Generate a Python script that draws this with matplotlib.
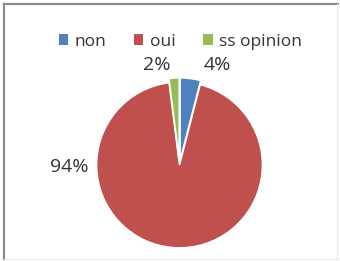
import matplotlib
matplotlib.use("Agg")
import matplotlib.pyplot as plt
from matplotlib.lines import Line2D
from matplotlib.patches import Patch

plt.rcParams["font.family"] = ["Open Sans", "DejaVu Sans"]

# data
categories = ["non", "oui", "ss opinion"]
shares = [4, 94, 2]
colors = ["#4F81BD", "#C0504D", "#9BBB59"]
explode = [0.05, 0.0, 0.05]
# label positions (data coords, pie radius = 1)
label_pos = [(0.46, 1.20), (-1.33, -0.03), (-0.28, 1.20)]

fig = plt.figure(figsize=(3.4, 2.61), dpi=100)
fig.patch.set_facecolor("white")

# frame around the chart area (dark on top/left, faint on bottom/right)
fig.add_artist(Line2D([0.013, 0.013], [0.008, 0.985], color="#8c8c8c", lw=1.6))
fig.add_artist(Line2D([0.013, 0.995], [0.985, 0.985], color="#8c8c8c", lw=1.6))
fig.add_artist(Line2D([0.013, 0.995], [0.008, 0.008], color="#e4e4e4", lw=0.8))
fig.add_artist(Line2D([0.991, 0.991], [0.008, 0.985], color="#ececec", lw=0.8))

ax = fig.add_axes([0.284, 0.050, 0.488, 0.636])
wedges, _ = ax.pie(
    shares,
    colors=colors,
    explode=explode,
    startangle=90,
    counterclock=False,
    radius=1.0,
    wedgeprops=dict(edgecolor="white", linewidth=1.2),
)
ax.set_xlim(-1.0, 1.0)
ax.set_ylim(-1.0, 1.0)
ax.set_aspect("equal")
ax.axis("off")

for (x, y), v in zip(label_pos, shares):
    ax.text(x, y, f"{v}%", ha="center", va="center", fontsize=14,
            color="#333333", clip_on=False)

handles = [Patch(facecolor=c, edgecolor="none") for c in colors]
fig.legend(handles, categories, loc="center", bbox_to_anchor=(0.53, 0.84),
           ncol=3, frameon=False, fontsize=12.5, handlelength=0.55,
           handleheight=0.55, handletextpad=0.35, columnspacing=1.6,
           labelcolor="#333333")

fig.savefig("out.png", dpi=100)
